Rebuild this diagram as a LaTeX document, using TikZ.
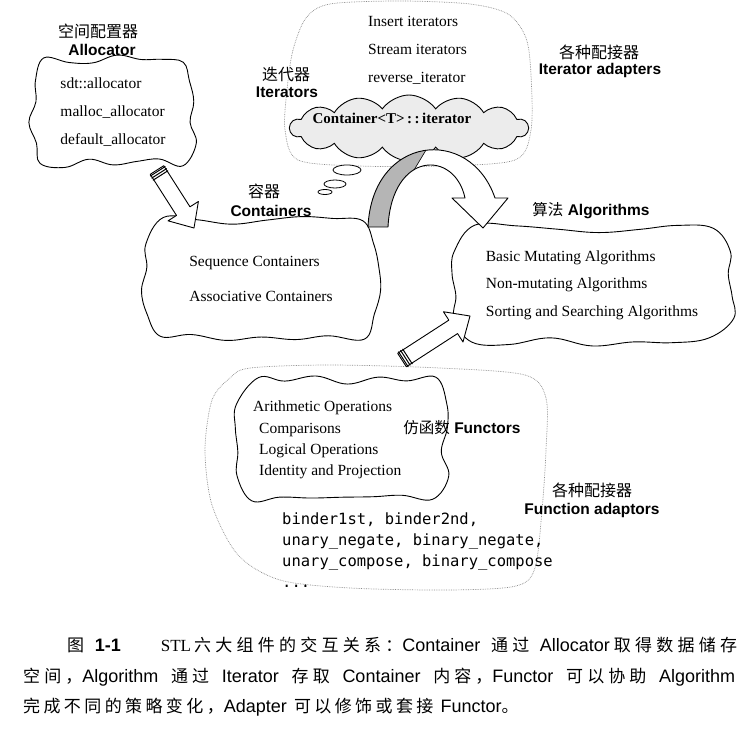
\documentclass[tikz,border=0pt]{standalone}
\usepackage{fontspec}
\setmainfont{Liberation Serif}
\setsansfont{Liberation Sans}
\setmonofont{DejaVu Sans Mono}
\newfontfamily\hanzi{Noto Sans CJK SC}
\usetikzlibrary{shapes.symbols}
\definecolor{haze}{HTML}{8A8A8A}
\definecolor{stipple}{HTML}{B5B5B5}
\definecolor{puff}{HTML}{ECECEC}
\newcommand\itemfont[1]{\rmfamily\fontsize{15.5}{#1}\selectfont}
\newcommand\tagfont{\sffamily\bfseries\fontsize{15.5}{18}\selectfont}
\newcommand\hanfont{\hanzi\fontsize{16}{18}\selectfont}
\newcommand\capfont[1]{\hanzi\fontsize{17}{20}\selectfont\addfontfeatures{LetterSpace=#1}}
\newcommand\capsans[1]{{\sffamily\fontsize{18}{20}\selectfont #1}}
\newcommand\capbold[1]{{\sffamily\bfseries\fontsize{18}{20}\selectfont #1}}
\tikzset{
  blob/.style={align=left, inner sep=0pt},
  blobline/.style={line width=0.9pt, line join=round},
  haze/.style={draw=haze, densely dotted, line width=0.7pt},
  tag/.style={font=\tagfont, inner sep=1pt},
  han/.style={font=\hanfont, inner sep=1pt},
  list/.style={anchor=north west, align=left, inner sep=0pt},
  fat/.style={draw, line width=0.9pt, fill=white, line join=round},
  bubble/.style={draw, line width=0.8pt, fill=white},
}
% hand drawn outline round a node: node, half width, half height
\newcommand\blobline[3]{%
  \begin{scope}[shift={(#1)}]
    \draw[blobline] plot[smooth cycle, tension=0.65] coordinates {
      ({-0.84*#2+4*rand},{-#3+4*rand}) ({-0.55*#2},{-#3+5*rand}) ({-0.25*#2},{-#3+5*rand})
      ({0.05*#2},{-#3+5*rand}) ({0.35*#2},{-#3+5*rand}) ({0.62*#2},{-#3+5*rand})
      ({0.88*#2+4*rand},{-#3+4*rand})
      ({#2+4*rand},{-0.6*#3}) ({#2+5*rand},{-0.2*#3}) ({#2+5*rand},{0.2*#3}) ({#2+4*rand},{0.6*#3})
      ({0.86*#2+4*rand},{#3+4*rand}) ({0.58*#2},{#3+5*rand}) ({0.3*#2},{#3+5*rand})
      ({0*#2},{#3+5*rand}) ({-0.3*#2},{#3+5*rand}) ({-0.6*#2},{#3+5*rand})
      ({-0.88*#2+4*rand},{#3+4*rand})
      ({-#2+4*rand},{0.6*#3}) ({-#2+5*rand},{0.2*#3}) ({-#2+5*rand},{-0.2*#3}) ({-#2+4*rand},{-0.6*#3})};
  \end{scope}%
}
% hollow arrow with a striped collar: tail, tip
\newcommand\fatarrow[2]{%
  \coordinate (fa-h) at ($(#2)!20pt!(#1)$);
  \draw[fat] ($(#1)!8pt!90:(#2)$) -- ($(fa-h)!8pt!-90:(#1)$) -- ($(fa-h)!18pt!-90:(#1)$) -- (#2)
    -- ($(fa-h)!18pt!90:(#1)$) -- ($(fa-h)!8pt!90:(#1)$) -- ($(#1)!8pt!-90:(#2)$) -- cycle;
  \foreach \s in {1.5pt,4pt,6.5pt} {
    \coordinate (fa-s) at ($(#1)!\s!(#2)$);
    \draw[line width=1pt] ($(fa-s)!9pt!90:(#2)$) -- ($(fa-s)!9pt!-90:(#2)$);
  }%
}
\def\arcpath{(368,227) .. controls (372,135) and (470,125) .. (495,198) -- (508,198) -- (483,228)
  -- (452,198) -- (465,198) .. controls (455,150) and (392,150) .. (388,227) -- cycle}
\usetikzlibrary{calc}

\begin{document}
\begin{tikzpicture}[x=1pt, y=-1pt]
  \useasboundingbox (0,0) rectangle (753,730);
  \pgfmathsetseed{23}
  % dotted regions
  \draw[haze] plot[smooth cycle] coordinates {(330,4) (400,1) (470,4) (508,14) (526,38) (531,75)
    (531,130) (515,160) (440,166) (360,166) (298,160) (285,130) (287,90) (293,50) (306,18)};
  \draw[haze] plot[smooth cycle] coordinates {(250,368) (330,365) (440,368) (525,375) (546,398)
    (546,450) (542,510) (535,568) (516,586) (450,590) (350,588) (280,580) (238,555) (212,505)
    (205,450) (212,400) (230,378)};

  % allocator
  \node[han] (allocHan) at (98,31) {空间配置器};
  \node[tag] (allocTag) at (102,50) {Allocator};
  \node[blob, font=\itemfont{28}] (allocBlob) at (113,112)
    {sdt::allocator\\malloc\_allocator\\default\_allocator};
  \blobline{allocBlob}{80}{52}

  % iterators
  \node[han] (iterHan) at (286,74) {迭代器};
  \node[tag] (iterTag) at (287,92) {Iterators};
  \node[list, font=\itemfont{28}] (iterList) at (368,16) {Insert iterators\\Stream iterators\\reverse\_iterator};
  \node[han] (adaptHan) at (599,52) {各种配接器};
  \node[tag] (adaptTag) at (600,70) {Iterator adapters};
  \node[cloud, draw, line width=0.9pt, fill=puff, cloud puffs=14, cloud puff arc=110, cloud ignores aspect,
    minimum width=238pt, minimum height=66pt] (iterCloud) at (409,128) {};
  \node[font=\rmfamily\bfseries\fontsize{15}{18}\selectfont] (iterText) at (392,118) {Container<T>\,:\,:\,iterator};
  \draw[bubble] (347,170) ellipse [x radius=14pt, y radius=5pt];
  \draw[bubble] (335,184) ellipse [x radius=11pt, y radius=4pt];
  \draw[bubble] (325,192) ellipse [x radius=7pt, y radius=2.5pt];

  % containers
  \node[han] (contHan) at (264,191) {容器};
  \node[tag] (contTag) at (271,211) {Containers};
  \node[blob, font=\itemfont{35}] (contBlob) at (261,279) {Sequence Containers\\Associative Containers};
  \blobline{contBlob}{116}{58}

  % algorithms
  \node[tag] (algTag) at (591,211) {{\hanzi\mdseries 算法} Algorithms};
  \node[blob, font=\itemfont{27.5}] (algBlob) at (592,285)
    {Basic Mutating Algorithms\\Non-mutating Algorithms\\Sorting and Searching Algorithms};
  \blobline{algBlob}{138}{56}

  % functors
  \node[blob, minimum width=211pt, minimum height=122pt] (funBlob) at (342,440) {};
  \blobline{funBlob}{104}{60}
  \node[list, font=\itemfont{21.3}] (funList) at (253,401)
    {Arithmetic Operations\\\hspace*{6pt}Comparisons\\\hspace*{6pt}Logical Operations\\\hspace*{6pt}Identity and Projection};
  \node[tag] (funTag) at (462,428) {{\hanzi\mdseries 仿函数} Functors};
  \node[list, font=\ttfamily\fontsize{15.5}{21}\selectfont] (bindList) at (282,513)
    {binder1st, binder2nd,\\unary\_negate, binary\_negate,\\unary\_compose, binary\_compose\\...};
  \node[han] (fadaptHan) at (592,490) {各种配接器};
  \node[tag] (fadaptTag) at (592,510) {Function adaptors};

  % arrows
  \coordinate (allocOut) at (157,170);
  \coordinate (contIn) at (194,228);
  \fatarrow{allocOut}{contIn}
  \coordinate (funOut) at (402,360);
  \coordinate (algIn) at (470,316);
  \fatarrow{funOut}{algIn}
  \fill[white] \arcpath;
  \begin{scope}
    \clip (300,100) -- (456,100) -- (426,150) -- (414,170) -- (410,240) -- (300,240) -- cycle;
    \fill[stipple] \arcpath;
  \end{scope}
  \draw[line width=0.9pt, line join=round] \arcpath;
  \draw[line width=0.6pt] (426,150) -- (414,170);

  % caption
  \node[anchor=west, inner sep=0pt, font=\capfont{25}] (cap1) at (67,645)
    {\makebox[670pt][s]{图 \capbold{1-1}\hspace{40pt}{\rmfamily\fontsize{17}{20}\selectfont STL}\hspace{3pt}六大组件的交互关系：\capsans{Container} 通过 \capsans{Allocator}\hspace{4pt}取得数据储存}};
  \node[anchor=west, inner sep=0pt, font=\capfont{24}] (cap2) at (23,677)
    {\makebox[712pt][s]{空间，\capsans{Algorithm} 通过 \capsans{Iterator} 存取 \capsans{Container} 内容，\capsans{Functor} 可以协助 \capsans{Algorithm}}};
  \node[anchor=west, inner sep=0pt, font=\capfont{20}] (cap3) at (23,707)
    {完成不同的策略变化，\capsans{Adapter} 可以修饰或套接 \capsans{Functor}。};
\end{tikzpicture}
\end{document}
